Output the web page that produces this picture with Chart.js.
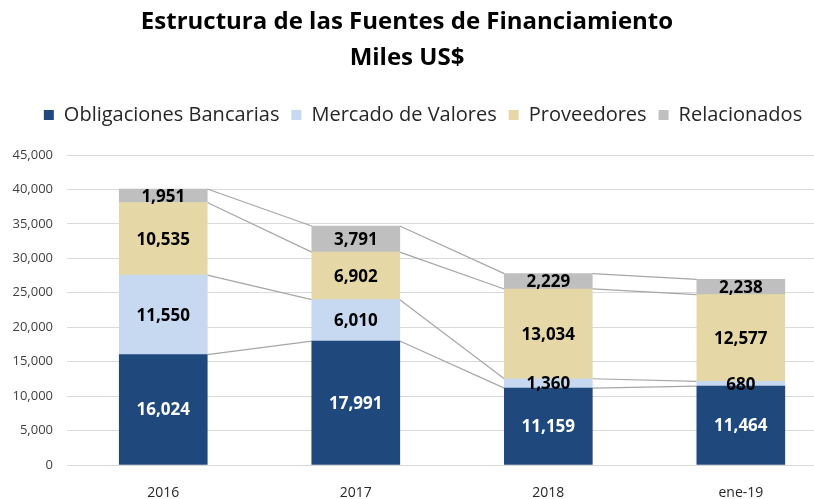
<!DOCTYPE html>
<html>
<head>
<meta charset="utf-8">
<script src="https://cdn.jsdelivr.net/npm/chart.js@4.4.1/dist/chart.umd.min.js"></script>
<style>
  html, body { margin: 0; padding: 0; background: #fff; overflow: hidden; }
  #wrap { width: 814px; height: 499px; }
</style>
</head>
<body>
<div id="wrap"><canvas id="chart" width="814" height="499"></canvas></div>
<script>
const categories = ['2016', '2017', '2018', 'ene-19'];
const bancarias = [16024, 17991, 11159, 11464];
const valores = [11550, 6010, 1360, 680];
const proveedores = [10535, 6902, 13034, 12577];
const relacionados = [1951, 3791, 2229, 2238];
const seriesNames = ['Obligaciones Bancarias', 'Mercado de Valores', 'Proveedores', 'Relacionados'];
const yTicks = [0, 5000, 10000, 15000, 20000, 25000, 30000, 35000, 40000, 45000];

const fmt = v => v.toLocaleString('en-US');
const toPoints = arr => arr.map((v, i) => ({ x: i, y: v }));

// lines joining each segment top between neighbouring bars (Excel "series lines")
const seriesLines = {
  id: 'seriesLines',
  beforeDatasetsDraw(chart) {
    const ctx = chart.ctx;
    ctx.save();
    ctx.strokeStyle = '#a6a6a6';
    ctx.lineWidth = 1.2;
    chart.data.datasets.forEach((ds, d) => {
      const meta = chart.getDatasetMeta(d);
      for (let i = 0; i < meta.data.length - 1; i++) {
        const a = meta.data[i], b = meta.data[i + 1];
        ctx.beginPath();
        ctx.moveTo(a.x + a.width / 2, a.y);
        ctx.lineTo(b.x - b.width / 2, b.y);
        ctx.stroke();
      }
    });
    ctx.restore();
  }
};

const segLabels = {
  id: 'segLabels',
  afterDatasetsDraw(chart) {
    const ctx = chart.ctx;
    ctx.save();
    ctx.font = 'bold 17px "Open Sans"';
    ctx.textAlign = 'center';
    ctx.textBaseline = 'middle';
    chart.data.datasets.forEach((ds, d) => {
      const meta = chart.getDatasetMeta(d);
      meta.data.forEach((el, i) => {
        ctx.fillStyle = d === 0 ? '#ffffff' : '#000000';
        ctx.fillText(fmt(ds.data[i].y), el.x, (el.y + el.base) / 2 + 1);
      });
    });
    ctx.restore();
  }
};

// extra room under the legend, and legend nudged right like the original
const legendTweak = {
  id: 'legendTweak',
  beforeLayout(chart) {
    const lg = chart.legend;
    if (lg && !lg._patched) {
      const fit = lg.fit;
      const draw = lg.draw;
      lg.fit = function () { fit.call(this); this.height += 20; };
      lg.draw = function () {
        this.ctx.save();
        this.ctx.translate(16, 0);
        draw.call(this);
        this.ctx.restore();
      };
      lg._patched = true;
    }
  }
};

const colors = ['#1f497d', '#c6d9f1', '#e6d8a6', '#bfbfbf'];

new Chart(document.getElementById('chart'), {
  type: 'bar',
  data: {
    datasets: [bancarias, valores, proveedores, relacionados].map((arr, k) => ({
      label: seriesNames[k],
      data: toPoints(arr),
      backgroundColor: colors[k],
      borderWidth: 0,
      barThickness: 88
    }))
  },
  options: {
    responsive: false,
    animation: false,
    layout: { padding: { top: 4, right: 0, left: 0, bottom: 0 } },
    plugins: {
      title: {
        display: true,
        text: ['Estructura de las Fuentes de Financiamiento', 'Miles US$'],
        color: '#000',
        font: { family: 'Open Sans', size: 24, weight: 'bold', lineHeight: 1.5 },
        padding: { top: 0, bottom: 17 }
      },
      legend: {
        position: 'top',
        labels: {
          color: '#262626',
          font: { family: 'Open Sans', size: 20 },
          boxWidth: 10,
          boxHeight: 10,
          padding: 12
        }
      },
      tooltip: { enabled: false }
    },
    scales: {
      x: {
        type: 'linear',
        stacked: true,
        offset: false,
        min: -0.5,
        max: 3.38,
        grid: { display: false, offset: false },
        border: { display: false },
        afterBuildTicks: axis => { axis.ticks = categories.map((c, i) => ({ value: i })); },
        afterFit: axis => { axis.height = 34; },
        ticks: {
          padding: 12,
          color: '#262626',
          font: { family: 'Open Sans', size: 14 },
          callback: v => categories[v]
        }
      },
      y: {
        stacked: true,
        min: 0,
        max: 45000,
        afterBuildTicks: axis => { axis.ticks = yTicks.map(v => ({ value: v })); },
        afterFit: axis => { axis.width = 67; },
        grid: { color: '#d9d9d9', drawTicks: false },
        border: { display: false },
        ticks: {
          padding: 14,
          color: '#404040',
          font: { family: 'Open Sans', size: 13 },
          callback: v => fmt(v)
        }
      }
    }
  },
  plugins: [seriesLines, segLabels, legendTweak]
});
</script>
</body>
</html>
